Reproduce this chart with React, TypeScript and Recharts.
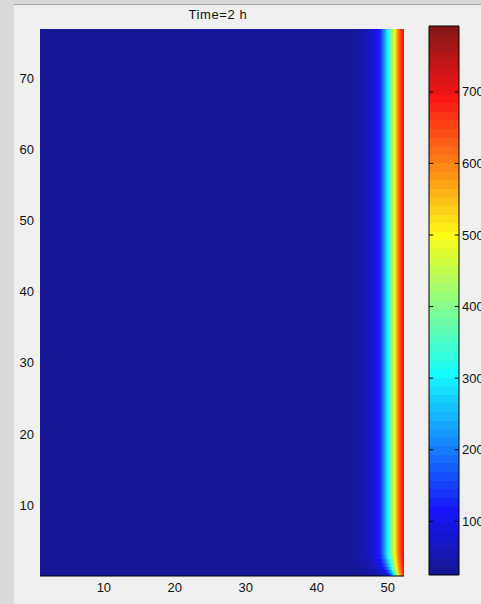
import React from 'react';
import { ComposedChart, XAxis, YAxis, ReferenceArea, ReferenceLine } from 'recharts';

const FONT = '"Liberation Sans", Arial, sans-serif';

// axis ticks
const xTicks = [10, 20, 30, 40, 50];
const yTicks = [10, 20, 30, 40, 50, 60, 70];
const barTicks = [100, 200, 300, 400, 500, 600, 700];

// colour limits of the colorbar
const cMin = 25;
const cMax = 792;

const xSamples = [1, 44, 45, 46, 47, 48, 48.5, 49, 49.5, 50, 50.5, 51, 51.5, 52.3];

// row bands (y ranges) — the bottom rows bend towards the corner
const rowBands = [
  [3, 77],
  [2.4, 3],
  [1.8, 2.4],
  [1.3, 1.8],
  [0.8, 1.3],
  [0.4, 0.8],
  [0, 0.4],
];

// temperature along x for each band
const tempMain = [25, 26, 28, 35, 50, 78, 100, 130, 215, 300, 390, 500, 610, 725];
const tempRow6 = [25, 26, 27, 34, 48, 74, 95, 124, 200, 285, 380, 492, 605, 722];
const tempRow5 = [25, 26, 27, 32, 44, 66, 85, 110, 175, 258, 355, 475, 595, 720];
const tempRow4 = [25, 25, 26, 30, 40, 58, 74, 96, 148, 228, 328, 455, 585, 716];
const tempRow3 = [24, 25, 25, 29, 36, 50, 62, 80, 120, 190, 290, 425, 570, 712];
const tempRow2 = [24, 25, 25, 27, 32, 43, 52, 66, 95, 150, 245, 385, 550, 708];
const tempRow1 = [24, 24, 25, 26, 29, 36, 42, 52, 72, 110, 190, 330, 520, 700];
const rowTemps = [tempMain, tempRow6, tempRow5, tempRow4, tempRow3, tempRow2, tempRow1];

const clamp = (v: number) => Math.max(0, Math.min(1, v));
// matlab jet, slightly washed like the screenshot
function jet(t: number) {
  const r = clamp(1.5 - Math.abs(4 * t - 3));
  const g = clamp(1.5 - Math.abs(4 * t - 2));
  const b = clamp(1.5 - Math.abs(4 * t - 1));
  const ch = (c: number) => Math.round(22 + c * 0.9 * 255);
  return `rgb(${ch(r)},${ch(g)},${ch(b)})`;
}
const tempColor = (v: number) => jet(1 / 64 + clamp((v - cMin) / (cMax - cMin)) * 63 / 64);
const levelColor = (k: number) => jet((k + 1) / 64);

const levels = Array.from({ length: 64 }, (_, k) => ({
  k,
  y1: cMin + (k * (cMax - cMin)) / 64,
  y2: cMin + ((k + 1) * (cMax - cMin)) / 64,
}));

const tickStyle = { fill: '#111', fontSize: 13, fontFamily: FONT };

function Gradients() {
  return (
    <svg width={0} height={0} style={{ position: 'absolute' }}>
      <defs>
        {rowTemps.map((temps, r) =>
          xSamples.slice(0, -1).map((_, i) => (
            <linearGradient key={`${r}-${i}`} id={`hm-${r}-${i}`} x1="0" y1="0" x2="1" y2="0">
              {[0, 1, 2, 3, 4, 5, 6].map((j) => (
                <stop
                  key={j}
                  offset={j / 6}
                  stopColor={tempColor(temps[i] + ((temps[i + 1] - temps[i]) * j) / 6)}
                />
              ))}
            </linearGradient>
          ))
        )}
      </defs>
    </svg>
  );
}

export default function App() {
  return (
    <div
      style={{
        position: 'fixed',
        left: 0,
        top: 0,
        width: 481,
        height: 604,
        overflow: 'hidden',
        background: '#f0f0f0',
      }}
    >
      <svg width={481} height={604} style={{ position: 'absolute', left: 0, top: 0 }}>
        <rect x={0} y={0} width={481} height={4} fill="#d9d9d9" />
        <rect x={0} y={0} width={14} height={604} fill="#d9d9d9" />
        <line x1={14} x2={481} y1={4.5} y2={4.5} stroke="#a3a3a3" />
        <text x={218} y={19} textAnchor="middle" fontSize={13} fontFamily={FONT} fill="#111" letterSpacing={0.6}>
          Time=2 h
        </text>
      </svg>
      <Gradients />

      <div style={{ position: 'absolute', left: 0, top: 0 }}>
        <ComposedChart width={420} height={604} margin={{ top: 29, right: 16, bottom: 0, left: 0 }}>
          <XAxis
            type="number"
            dataKey="x"
            domain={[1, 52.3]}
            ticks={xTicks}
            allowDataOverflow
            height={28}
            tickLine={false}
            tickSize={0}
            tickMargin={7}
            axisLine={false}
            tick={tickStyle}
          />
          <YAxis
            type="number"
            domain={[0, 77]}
            ticks={yTicks}
            allowDataOverflow
            width={40}
            tickLine={false}
            tickSize={0}
            tickMargin={6}
            axisLine={false}
            tick={tickStyle}
          />
          {rowBands.map(([y1, y2], r) =>
            xSamples.slice(0, -1).map((x1, i) => (
              <ReferenceArea
                key={`${r}-${i}`}
                x1={x1}
                x2={xSamples[i + 1]}
                y1={y1}
                y2={y2}
                fill={`url(#hm-${r}-${i})`}
                fillOpacity={1}
                stroke="none"
                shapeRendering="crispEdges"
              />
            ))
          )}
          <ReferenceLine y={0} stroke="#000" />
        </ComposedChart>
      </div>

      <div style={{ position: 'absolute', left: 0, top: 0 }}>
        <ComposedChart width={481} height={604} margin={{ top: 26, right: 0, bottom: 29, left: 429 }}>
          <XAxis
            type="number"
            dataKey="x"
            domain={[0, 1]}
            allowDataOverflow
            height={0}
            tick={false}
            tickLine={false}
            axisLine={false}
          />
          <YAxis
            type="number"
            orientation="right"
            domain={[cMin, cMax]}
            ticks={barTicks}
            allowDataOverflow
            width={22}
            tickLine={false}
            tickSize={0}
            tickMargin={3}
            axisLine={false}
            tick={tickStyle}
          />
          {levels.map((lv) => (
            <ReferenceArea
              key={lv.k}
              x1={0}
              x2={1}
              y1={lv.y1}
              y2={lv.y2}
              fill={levelColor(lv.k)}
              fillOpacity={1}
              stroke="none"
              shapeRendering="crispEdges"
            />
          ))}
          {barTicks.map((v) => (
            <ReferenceArea
              key={`l${v}`}
              x1={0}
              x2={0.14}
              y1={v - 0.7}
              y2={v + 0.7}
              fill="#000"
              fillOpacity={1}
              stroke="none"
            />
          ))}
          {barTicks.map((v) => (
            <ReferenceArea
              key={`r${v}`}
              x1={0.86}
              x2={1}
              y1={v - 0.7}
              y2={v + 0.7}
              fill="#000"
              fillOpacity={1}
              stroke="none"
            />
          ))}
          <ReferenceArea x1={0} x2={1} y1={cMin} y2={cMax} fill="none" fillOpacity={0} stroke="#000" />
        </ComposedChart>
      </div>
    </div>
  );
}
